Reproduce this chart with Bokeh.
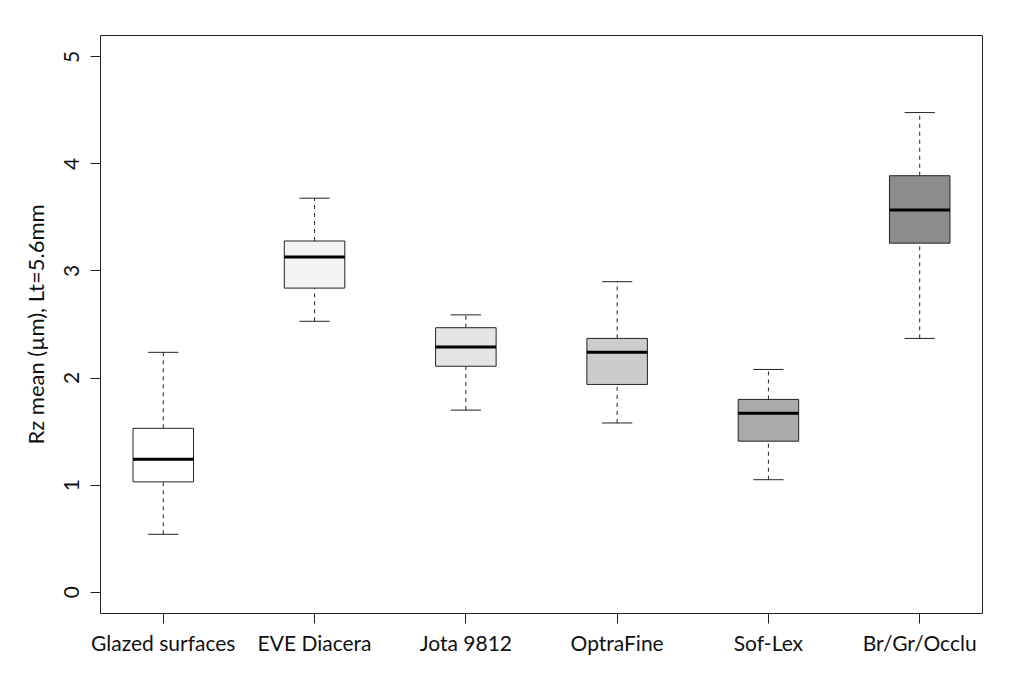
import numpy as np
from bokeh.plotting import figure
from bokeh.models import Range1d, FixedTicker, ColumnDataSource
from bokeh.embed import file_html
from bokeh.resources import INLINE

# ---- data ----
categories = ["Glazed surfaces", "EVE Diacera", "Jota 9812", "OptraFine", "Sof-Lex", "Br/Gr/Occlu"]
lower  = [0.54, 2.53, 1.70, 1.58, 1.05, 2.37]
q1     = [1.03, 2.84, 2.11, 1.94, 1.41, 3.26]
median = [1.24, 3.13, 2.29, 2.24, 1.67, 3.57]
q3     = [1.53, 3.28, 2.47, 2.37, 1.80, 3.89]
upper  = [2.24, 3.68, 2.59, 2.90, 2.08, 4.48]
fills  = ["#FFFFFF", "#F3F3F3", "#E5E5E5", "#CCCCCC", "#AAAAAA", "#8C8C8C"]
y_ticks = [0, 1, 2, 3, 4, 5]
y_label = "Rz mean (µm), Lt=5.6mm"

FONT = "Lato"
box_w = 0.4
cap_w = 0.2

x = np.arange(1, len(categories) + 1)
src = ColumnDataSource(dict(
    x=x, lower=lower, q1=q1, median=median, q3=q3, upper=upper, fill=fills,
    bl=x - box_w / 2, br=x + box_w / 2, cl=x - cap_w / 2, cr=x + cap_w / 2,
))

p = figure(width=1008, height=658, output_backend="svg", toolbar_location=None,
           x_range=Range1d(0.585, 6.415), y_range=Range1d(-0.2, 5.2),
           min_border_left=100, min_border_right=26, min_border_top=35, min_border_bottom=45)

p.background_fill_color = "white"
p.border_fill_color = "white"
p.outline_line_color = "#222222"
p.outline_line_width = 1
p.grid.visible = False

# whiskers
p.segment(x0="x", y0="q3", x1="x", y1="upper", source=src, line_color="#222222",
          line_width=1, line_dash="4 4")
p.segment(x0="x", y0="lower", x1="x", y1="q1", source=src, line_color="#222222",
          line_width=1, line_dash="4 4")
# caps
p.segment(x0="cl", y0="upper", x1="cr", y1="upper", source=src, line_color="#222222", line_width=1)
p.segment(x0="cl", y0="lower", x1="cr", y1="lower", source=src, line_color="#222222", line_width=1)
# boxes
p.vbar(x="x", width=box_w, bottom="q1", top="q3", source=src, fill_color="fill",
       line_color="#222222", line_width=1)
# medians
p.segment(x0="bl", y0="median", x1="br", y1="median", source=src, line_color="black", line_width=3)

# axes
xa = p.xaxis[0]
xa.ticker = FixedTicker(ticks=list(x))
xa.major_label_overrides = {int(i): c for i, c in zip(x, categories)}
ya = p.yaxis[0]
ya.ticker = FixedTicker(ticks=y_ticks)
ya.axis_label = y_label
ya.major_label_orientation = "vertical"

for ax in (xa, ya):
    ax.axis_line_color = None
    ax.major_tick_line_color = "#222222"
    ax.major_tick_out = 10
    ax.major_tick_in = 0
    ax.minor_tick_line_color = None
    ax.major_label_text_font = FONT
    ax.major_label_text_font_size = "21px"
    ax.major_label_text_color = "#111111"
    ax.axis_label_text_font = FONT
    ax.axis_label_text_font_size = "22px"
    ax.axis_label_text_font_style = "normal"
    ax.axis_label_text_color = "#111111"

xa.major_label_standoff = 6
ya.major_label_standoff = 11
ya.axis_label_standoff = 13

open("out.html", "w").write(file_html(p, INLINE))
